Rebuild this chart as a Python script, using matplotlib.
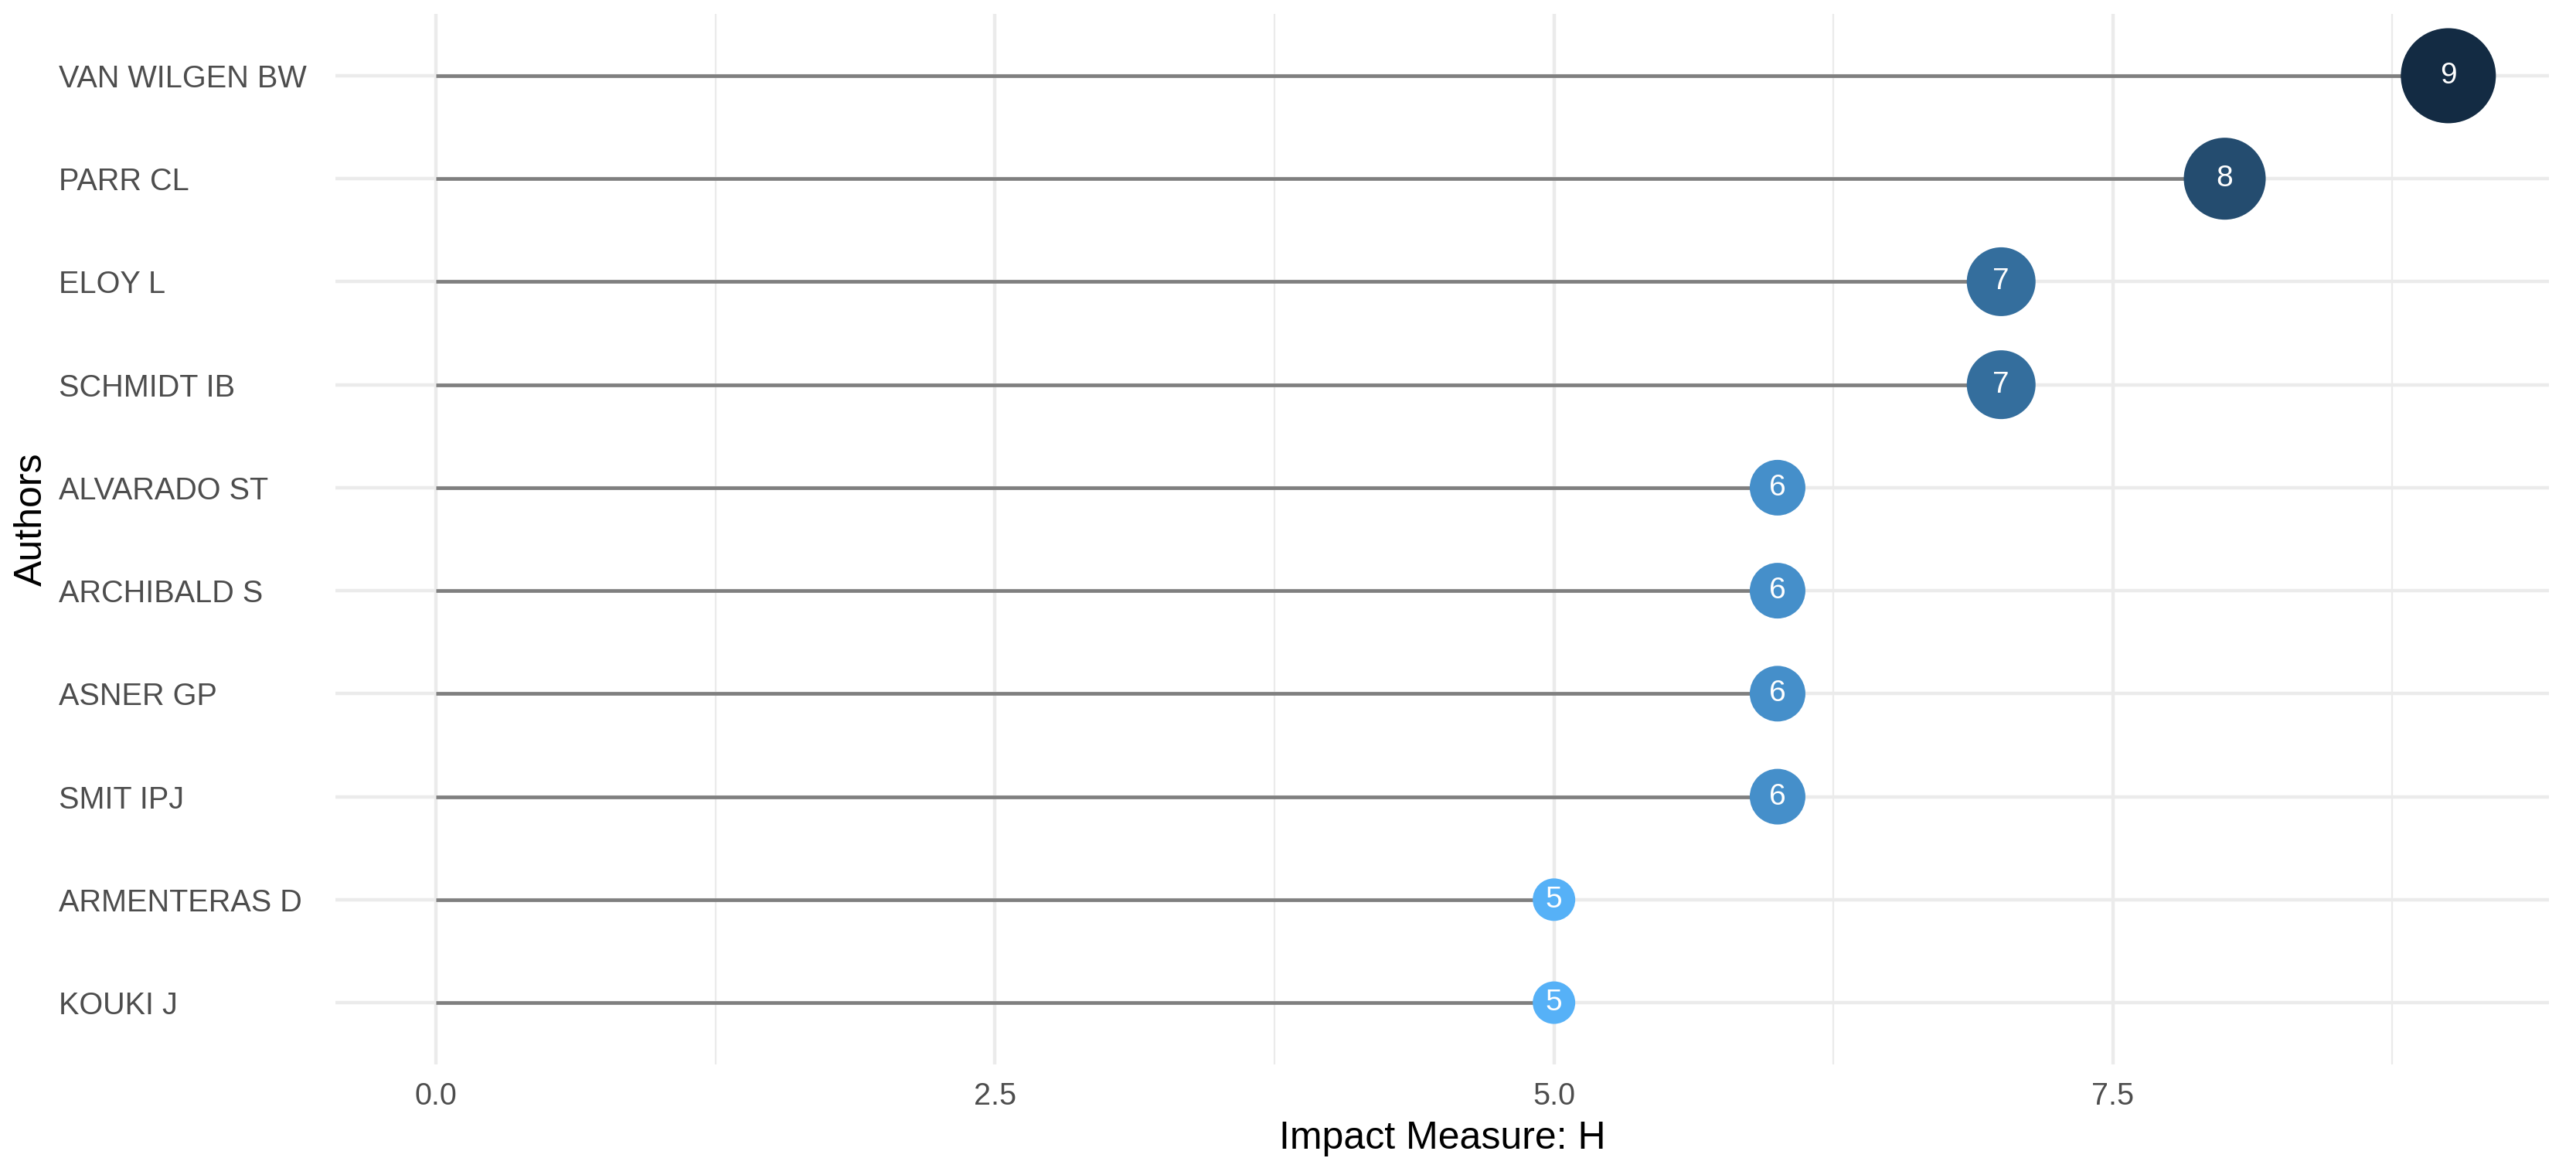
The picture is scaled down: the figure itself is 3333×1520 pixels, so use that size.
import numpy as np
import matplotlib
matplotlib.use("Agg")
import matplotlib.pyplot as plt
from matplotlib.colors import LinearSegmentedColormap, Normalize

# H-index per author, top to bottom as shown
authors = ["VAN WILGEN BW", "PARR CL", "ELOY L", "SCHMIDT IB", "ALVARADO ST",
           "ARCHIBALD S", "ASNER GP", "SMIT IPJ", "ARMENTERAS D", "KOUKI J"]
h_index = [9, 8, 7, 7, 6, 6, 6, 6, 5, 5]
x_ticks = [0.0, 2.5, 5.0, 7.5]
x_tick_labels = ["0.0", "2.5", "5.0", "7.5"]

plt.rcParams["font.family"] = ["Liberation Sans", "DejaVu Sans"]

W, H, DPI = 3333, 1520, 100
fig = plt.figure(figsize=(W / DPI, H / DPI), dpi=DPI)
# panel placement in pixels: left, top, right, bottom
pl, pt, pr, pb = 434, 18, 3298, 1377
ax = fig.add_axes([pl / W, 1 - pb / H, (pr - pl) / W, (pb - pt) / H])

vals = np.array(h_index, dtype=float)
n = len(authors)
ypos = np.arange(n, 0, -1)  # first author at the top

# colour and size scales (higher value -> darker, bigger)
cmap = LinearSegmentedColormap.from_list("h", ["#56B1F7", "#132B43"])
norm = Normalize(vmin=vals.min(), vmax=vals.max())
diam_px = np.interp(vals, [vals.min(), vals.max()], [55, 123])
sizes = (diam_px * 72 / DPI) ** 2

ax.hlines(ypos, 0, vals, color="#7F7F7F", linewidth=3.4, zorder=2)
ax.scatter(vals, ypos, s=sizes, c=vals, cmap=cmap, norm=norm,
           edgecolors="none", zorder=3)
for v, y in zip(vals, ypos):
    ax.text(v, y, f"{int(v)}", color="white", fontsize=28,
            ha="center", va="center", zorder=4)

# ggplot-style expansion
ax.set_xlim(-0.45, 9.45)
ax.set_ylim(0.4, n + 0.6)

ax.set_xticks(x_ticks)
ax.set_xticklabels(x_tick_labels)
ax.set_xticks([1.25, 3.75, 6.25, 8.75], minor=True)
ax.set_yticks(ypos)
ax.set_yticklabels(authors)

ax.grid(which="major", color="#EBEBEB", linewidth=3.2, zorder=0)
ax.grid(which="minor", axis="x", color="#EBEBEB", linewidth=1.6, zorder=0)
ax.set_axisbelow(True)
for s in ax.spines.values():
    s.set_visible(False)

ax.tick_params(axis="both", which="both", length=0)
ax.tick_params(axis="x", labelsize=28.5, labelcolor="#4D4D4D", pad=16)
ax.tick_params(axis="y", labelsize=28.5, labelcolor="#4D4D4D",
               pad=(pl - 76) * 72 / DPI)
for lbl in ax.get_yticklabels():
    lbl.set_horizontalalignment("left")

ax.set_xlabel("Impact Measure: H", fontsize=36, color="black", labelpad=9)
ax.set_ylabel("Authors", fontsize=36, color="black")
ax.yaxis.set_label_coords((64 - pl) / (pr - pl), (pb - 672) / (pb - pt))

fig.savefig("out.png", dpi=DPI, facecolor="white")
